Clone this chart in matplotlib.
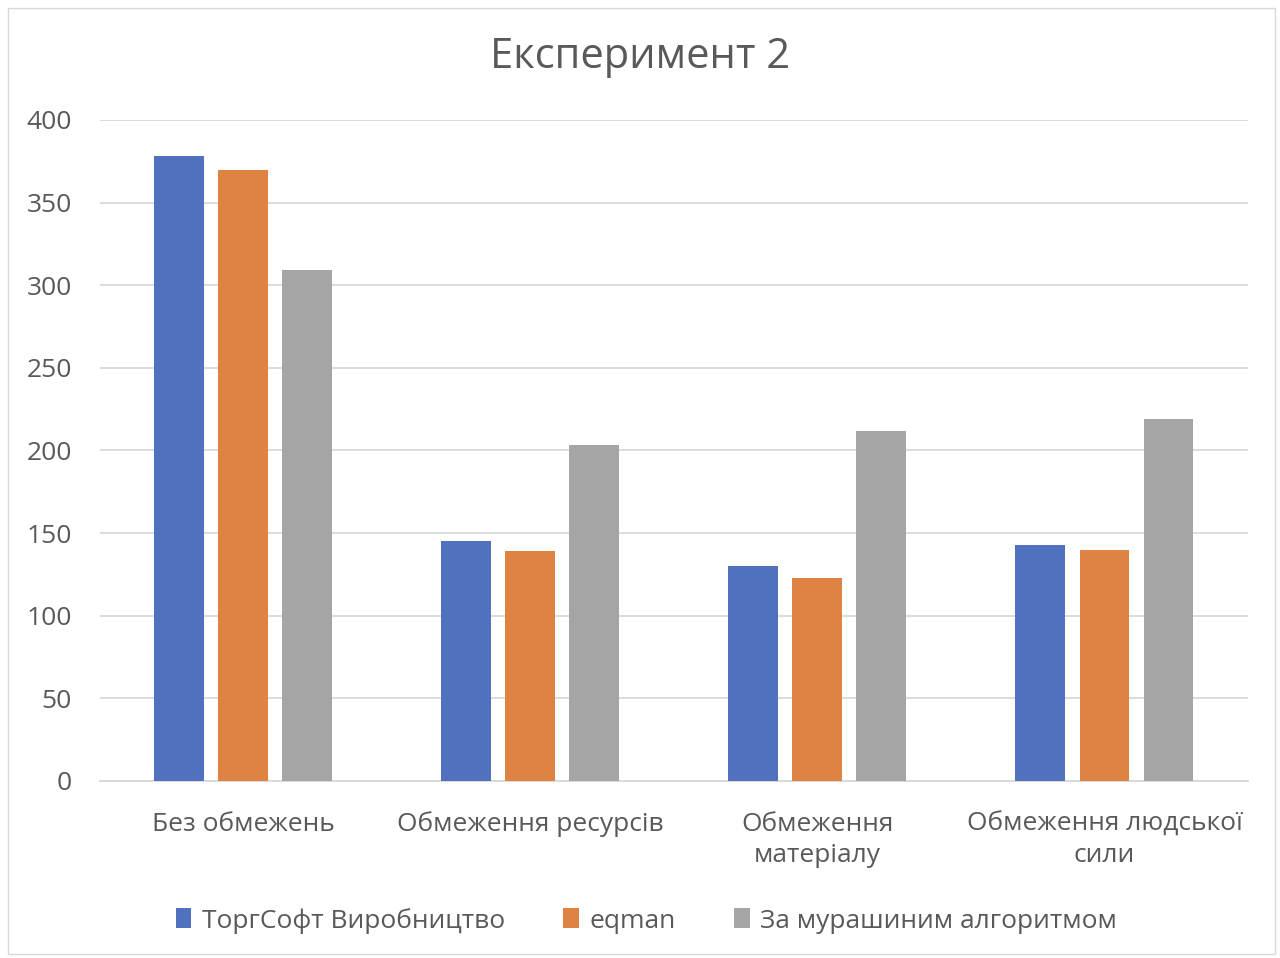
import matplotlib.pyplot as plt
import numpy as np
from matplotlib.patches import Rectangle

plt.rcParams['font.family'] = ['Open Sans', 'DejaVu Sans']

# Data
categories = ["Без обмежень", "Обмеження ресурсів", "Обмеження\nматеріалу", "Обмеження людської\nсили"]
series_names = ["ТоргСофт Виробництво", "eqman", "За мурашиним алгоритмом"]
torgsoft = [378, 145, 130, 143]
eqman = [370, 139, 123, 140]
ant = [309, 203, 212, 219]
colors = ["#4f71be", "#de8344", "#a5a5a5"]

fig = plt.figure(figsize=(12.8, 9.58), dpi=100)
ax = fig.add_axes([0.078, 0.1848, 0.897, 0.69])

x = np.arange(len(categories))
width = 0.174
step = 0.223
for i, (vals, name, c) in enumerate(zip([torgsoft, eqman, ant], series_names, colors)):
    ax.bar(x + (i - 1) * step, vals, width, color=c, label=name, zorder=3)

ax.set_xlim(-0.5, 3.5)
ax.set_ylim(0, 400)
ax.set_yticks(np.arange(0, 401, 50))
ax.grid(axis='y', color='#d9d9d9', linewidth=1.3, zorder=0)
for s in ['top', 'right', 'left']:
    ax.spines[s].set_visible(False)
ax.spines['bottom'].set_color('#d9d9d9')
ax.spines['bottom'].set_linewidth(1.3)
ax.tick_params(axis='both', length=0, labelsize=19, colors='#595959')
ax.tick_params(axis='y', pad=20)
ax.tick_params(axis='x', pad=22)
ax.set_xticks(x)
ax.set_xticklabels(categories, linespacing=1.35)

fig.text(0.5, 0.94, "Експеримент 2", ha='center', va='center', fontsize=30,
         color='#595959', fontweight='medium')

fig.legend(loc='center', bbox_to_anchor=(0.505, 0.039), ncol=3, frameon=False,
           fontsize=19, labelcolor='#595959', handlelength=0.6, handleheight=0.8,
           handletextpad=0.4, columnspacing=2.2)

fig.patches.append(Rectangle((0.006, 0.004), 0.99, 0.988, transform=fig.transFigure,
                             fill=False, edgecolor='#d9d9d9', linewidth=1))

fig.savefig("out.png", dpi=100)
